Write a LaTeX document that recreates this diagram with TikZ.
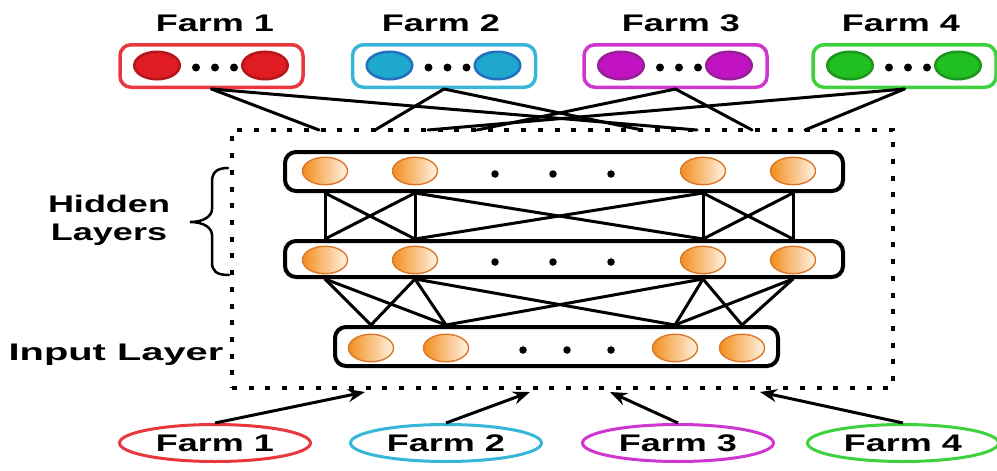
\documentclass[tikz,border=0pt]{standalone}
\usepackage{fontspec}
\newfontfamily\labfont{Liberation Sans}[FakeStretch=1.5]
\newfontfamily\inpfont{Liberation Sans}[FakeStretch=1.66]
\usetikzlibrary{shapes.geometric,arrows.meta,calc}
\definecolor{bred}{HTML}{E8383D}\definecolor{fred}{HTML}{E01B22}\definecolor{dred}{HTML}{B3161B}
\definecolor{bcya}{HTML}{38B6D8}\definecolor{fcya}{HTML}{1EA8CE}\definecolor{dcya}{HTML}{2470C0}
\definecolor{bmag}{HTML}{CF35CF}\definecolor{fmag}{HTML}{C113C1}\definecolor{dmag}{HTML}{962096}
\definecolor{bgrn}{HTML}{3DD13D}\definecolor{fgrn}{HTML}{20C020}\definecolor{dgrn}{HTML}{1C961C}
\definecolor{neul}{HTML}{F28E1C}\definecolor{neur}{HTML}{FFF3E6}\definecolor{neub}{HTML}{DD7628}
\begin{document}
\begin{tikzpicture}[x=1pt,y=-1pt,
  lab/.style={font=\labfont\bfseries\fontsize{24}{28}\selectfont, inner sep=0pt, anchor=base},
  farmbox/.style={draw=#1, line width=3.5pt, rounded corners=11pt, minimum width=183pt, minimum height=42.5pt, inner sep=0pt},
  fcirc/.style n args={2}{ellipse, draw=#1, fill=#2, line width=2.5pt, minimum width=45.5pt, minimum height=27.5pt, inner sep=0pt},
  fdot/.style={circle, fill=black, minimum size=8pt, inner sep=0pt},
  layerbox/.style={draw, line width=4pt, rounded corners=11pt, inner sep=0pt},
  neuron/.style={ellipse, draw=neub, line width=1.4pt, left color=neul, right color=neur, minimum width=45pt, minimum height=27.5pt, inner sep=0pt},
  ldot/.style={circle, fill=black, minimum size=7.5pt, inner sep=0pt},
  conn/.style={line width=3pt, line cap=round},
  netbox/.style={draw, line width=4.5pt, dash pattern=on 5pt off 11.7pt, inner sep=0pt},
  oval/.style={ellipse, draw=#1, line width=3pt, minimum width=191pt, minimum height=37pt, inner sep=0pt},
  arr/.style={line width=3pt, -{Stealth[length=17pt,width=13pt]}},
  bracestyle/.style={line width=2.5pt, line cap=round}
]
\useasboundingbox (0,0) rectangle (997,471);

% dotted network frame
\node[netbox, minimum width=661pt, minimum height=258pt] (net) at (562.5,259) {};

% output farms (top)
\foreach \i/\cx/\lx/\bc/\fc/\dc in {1/211.5/215/bred/fred/dred, 2/444/441/bcya/fcya/dcya, 3/675.5/681/bmag/fmag/dmag, 4/904.5/901/bgrn/fgrn/dgrn}{
  \node[lab] (ft\i) at (\lx,31) {Farm \i};
  \node[farmbox=\bc] (fb\i) at (\cx,66) {};
  \node[fcirc={\dc}{\fc}] (fl\i) at (\cx-54.5,65.5) {};
  \node[fcirc={\dc}{\fc}] (fr\i) at (\cx+53.5,65.5) {};
  \node[fdot] (fda\i) at (\cx-15.5,67.5) {};
  \node[fdot] (fdb\i) at (\cx+3.5,67.5) {};
  \node[fdot] (fdc\i) at (\cx+22.5,67.5) {};
}

% layer boxes
\node[layerbox, minimum width=558pt, minimum height=39pt] (htop) at (564,171.5) {};
\node[layerbox, minimum width=558pt, minimum height=36pt] (hbot) at (564,259) {};
\node[layerbox, minimum width=443pt, minimum height=39pt] (inp) at (556.5,346.5) {};

% neurons
\foreach \n/\x in {1/325,2/415,3/703,4/793}{
  \node[neuron] (t\n) at (\x,171) {};
  \node[neuron] (b\n) at (\x,260) {};
}
\foreach \n/\x in {1/371,2/446,3/675,4/742}{
  \node[neuron] (i\n) at (\x,348) {};
}
\foreach \n/\x in {1/495,2/553,3/611}{
  \node[ldot] (td\n) at (\x,174) {};
  \node[ldot] (bd\n) at (\x,262) {};
}
\foreach \n/\x in {1/523,2/567,3/611}{
  \node[ldot] (id\n) at (\x,350) {};
}

% layer connections
\foreach \a/\b in {1/1,1/2,2/1,2/2,2/3,3/2,3/3,3/4,4/3,4/4}{
  \draw[conn] (t\a |- htop.south) -- (b\b |- hbot.north);
  \draw[conn] (b\a |- hbot.south) -- (i\b |- inp.north);
}

% top connectors
\foreach \n/\x in {1/319,2/375,3/428,4/477,5/642,6/697,7/752,8/805}{
  \coordinate (n\n) at (\x,130);
}
\draw[conn] (fb1.south) -- (n1);
\draw[conn] (fb1.south) -- (n6);
\draw[conn] (fb2.south) -- (n2);
\draw[conn] (fb2.south) -- (n5);
\draw[conn] (fb3.south) -- (n4);
\draw[conn] (fb3.south) -- (n7);
\draw[conn] (fb4.south) -- (n3);
\draw[conn] (fb4.south) -- (n8);

% input farms (bottom)
\foreach \i/\cx/\bc in {1/215/bred, 2/446/bcya, 3/678/bmag, 4/903/bgrn}{
  \node[oval=\bc, font=\labfont\bfseries\fontsize{24}{28}\selectfont] (ov\i) at (\cx,443) {Farm \i};
}
\coordinate (a1) at (365,392);
\coordinate (a2) at (530,392);
\coordinate (a3) at (610,392);
\coordinate (a4) at (760,392);
\foreach \i in {1,2,3,4}{
  \draw[arr] (ov\i.north) -- (a\i);
}

% left labels
\node[lab] (hid) at (109,212) {Hidden};
\node[lab] (lay) at (109,240) {Layers};
\node[lab, font=\inpfont\bfseries\fontsize{24}{28}\selectfont] (inl) at (116,360) {Input Layer};

% brace
\draw[bracestyle] (228,168) .. controls (216,168) and (212,173) .. (212,182)
  -- (212,209) .. controls (212,216) and (204,222) .. (190,222)
  .. controls (204,222) and (212,228) .. (212,235)
  -- (212,262) .. controls (212,271) and (216,275) .. (229,275);
\end{tikzpicture}
\end{document}
